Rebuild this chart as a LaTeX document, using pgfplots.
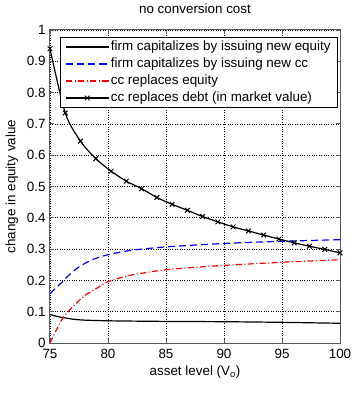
\documentclass[border=0pt]{standalone}
\usepackage{pgfplots}
\pgfplotsset{compat=1.18}
\usepackage{fontspec}
\setmainfont{Liberation Sans}
\newcommand{\fs}{\fontsize{13.4}{16}\selectfont}
\begin{document}
\begin{tikzpicture}
\begin{axis}[
  name=ax,
  scale only axis,
  width=290pt, height=313pt,
  xmin=75, xmax=100, ymin=0, ymax=1,
  xtick={75,80,...,100},
  ytick={0,0.1,...,1.0},
  yticklabels={0,0.1,0.2,0.3,0.4,0.5,0.6,0.7,0.8,0.9,1},
  tick align=inside,
  xtick pos=both, ytick pos=both,
  major tick length=4pt,
  grid=major,
  major grid style={black, dotted, line width=0.6pt},
  axis line style={black!65, line width=1pt},
  tick style={black!65, line width=0.8pt},
  /pgf/number format/assume math mode=true,
  tick label style={font=\fs},
  xticklabel style={yshift=-2.5pt},
  yticklabel style={xshift=-1pt},
  label style={font=\fs},
  title style={font=\fs, at={(axis description cs:0.5,1.048)}, anchor=center},
  x label style={at={(axis description cs:0.5,-0.0927)}, anchor=center},
  y label style={at={(axis description cs:-0.131,0.5)}, anchor=center},
  title={no conversion cost},
  xlabel={asset level (V$_{\mathrm{o}}$)},
  ylabel={change in equity value},
  legend style={at={(0.993,0.978)}, anchor=north east, font=\fs, row sep=0.5pt, inner xsep=5pt, inner ysep=1.5pt, line width=0.8pt, nodes={text height=9.5pt, text depth=3pt, inner sep=2pt}},
  legend cell align=left,
  legend image code/.code={\draw[mark repeat=2,mark phase=2,#1] plot coordinates {(0pt,0pt) (21pt,0pt) (42pt,0pt)};},
]
\addplot[black, line width=1.2pt, smooth] coordinates {
(75,0.091)(75.5,0.086)(76,0.082)(77,0.076)(78,0.073)(80,0.071)(82,0.070)(85,0.069)(90,0.068)(95,0.066)(100,0.063)};
\addlegendentry{firm capitalizes by issuing new equity}
\addplot[blue, line width=1.2pt, dash pattern=on 7pt off 4pt, smooth] coordinates {
(75,0.157)(75.5,0.176)(76,0.193)(76.5,0.212)(77,0.229)(77.5,0.243)(78,0.254)(78.7,0.267)(80,0.282)(82,0.296)(85,0.307)(90,0.318)(95,0.325)(100,0.330)};
\addlegendentry{firm capitalizes by issuing new cc}
\addplot[red, line width=1.2pt, dash pattern=on 6pt off 2.5pt on 1pt off 2.5pt, smooth] coordinates {
(75,0.0)(75.5,0.038)(76,0.074)(76.5,0.098)(77,0.117)(77.6,0.139)(78,0.152)(79,0.174)(80,0.196)(82,0.217)(85,0.234)(88,0.243)(90,0.248)(95,0.258)(100,0.266)};
\addlegendentry{cc replaces equity}
\addplot[black, line width=1.2pt, mark=x, mark size=3.3pt, mark options={line width=1pt}, smooth] coordinates {
(75,0.940)(76.316,0.735)(77.632,0.645)(78.947,0.589)(80.263,0.549)(81.579,0.517)(82.895,0.493)(84.211,0.465)(85.526,0.443)(86.842,0.424)(88.158,0.404)(89.474,0.387)(90.789,0.371)(92.105,0.358)(93.421,0.345)(94.737,0.332)(96.053,0.320)(97.368,0.309)(98.684,0.299)(100,0.288)};
\addlegendentry{cc replaces debt (in market value)}
\end{axis}
\pgfresetboundingbox
\path[use as bounding box] ([shift={(-50pt,-52pt)}]ax.south west) rectangle ([shift={(16pt,30pt)}]ax.north east);
\end{tikzpicture}
\end{document}
